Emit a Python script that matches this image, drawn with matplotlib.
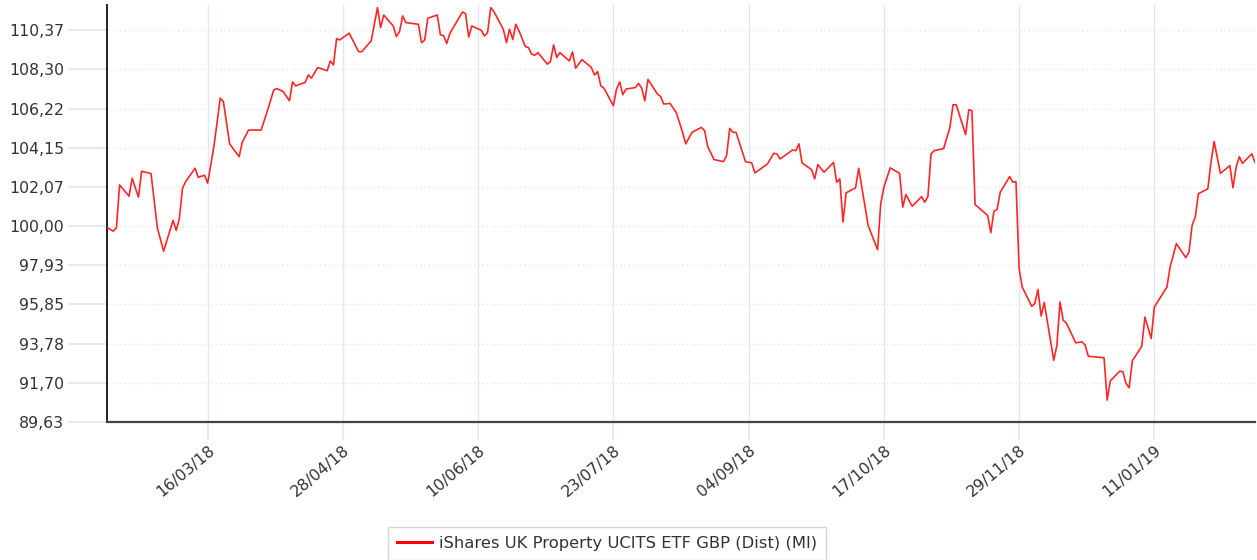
import matplotlib
matplotlib.use("Agg")
import matplotlib.pyplot as plt
import matplotlib.dates as mdates
import pandas as pd

# data: days since start date, fund value
start = "2018-02-12"
end = "2019-02-12"
day = [0, 2, 3, 4, 7, 8, 10, 11, 14, 16, 18, 21, 22, 23, 24, 25, 28, 29, 31, 32,
       34, 36, 37, 39, 42, 43, 45, 49, 51, 53, 54, 56, 58, 59, 60, 63, 64, 65, 67, 70,
       71, 72, 73, 74, 77, 80, 81, 84, 86, 87, 88, 91, 92, 93, 94, 95, 99, 100, 101, 102,
       105, 106, 107, 108, 109, 113, 114, 115, 116, 119, 120, 121, 122, 123, 126, 127, 128, 129, 130, 131,
       133, 134, 135, 136, 137, 140, 141, 142, 143, 144, 147, 148, 149, 151, 154, 155, 156, 157, 158, 161,
       162, 163, 164, 165, 168, 169, 170, 171, 172, 175, 176, 177, 179, 181, 182, 183, 184, 186, 187, 189,
       190, 191, 193, 196, 197, 198, 199, 200, 203, 205, 206, 210, 212, 213, 214, 218, 219, 220, 221, 224,
       225, 226, 228, 231, 232, 233, 234, 235, 238, 239, 240, 242, 245, 246, 247, 249, 252, 253, 254, 256,
       259, 260, 261, 262, 263, 266, 268, 269, 270, 273, 274, 275, 276, 280, 281, 282, 283, 284, 287, 288,
       289, 290, 291, 294, 295, 296, 297, 298, 301, 302, 303, 304, 305, 308, 310, 311, 312, 314, 317, 318,
       319, 322, 323, 324, 325, 326, 329, 330, 332, 333, 336, 337, 338, 340, 343, 344, 345, 346, 347, 350,
       351, 352, 354, 357, 358, 359, 360, 361, 364, 365]
value = [99.93, 99.73, 99.91, 102.18, 101.58, 102.53, 101.53, 102.90, 102.78, 99.91,
         98.67, 100.30, 99.77, 100.39, 102.00, 102.35, 103.06, 102.58, 102.69, 102.27,
         104.22, 106.77, 106.59, 104.35, 103.67, 104.43, 105.08, 105.08, 106.10, 107.20,
         107.28, 107.12, 106.63, 107.63, 107.42, 107.60, 108.00, 107.83, 108.39, 108.22,
         108.74, 108.53, 109.92, 109.85, 110.21, 109.23, 109.23, 109.80, 111.56, 110.50,
         111.17, 110.59, 110.03, 110.29, 111.12, 110.77, 110.68, 109.71, 109.84, 111.00,
         111.17, 110.12, 110.08, 109.66, 110.19, 111.33, 111.24, 110.01, 110.59, 110.36,
         110.06, 110.24, 111.56, 111.35, 110.42, 109.71, 110.42, 109.87, 110.68, 110.33,
         109.50, 109.45, 109.10, 109.04, 109.18, 108.57, 108.71, 109.59, 108.92, 109.18,
         108.74, 109.22, 108.36, 108.81, 108.39, 108.00, 108.18, 107.42, 107.30, 106.37,
         107.25, 107.63, 106.95, 107.25, 107.33, 107.55, 107.30, 106.63, 107.76, 106.99,
         106.86, 106.46, 106.49, 106.01, 105.49, 104.96, 104.35, 104.96, 105.05, 105.22,
         105.05, 104.20, 103.52, 103.41, 103.73, 105.17, 104.96, 104.96, 103.41, 103.34,
         102.81, 103.29, 103.85, 103.82, 103.55, 104.03, 103.99, 104.35, 103.34, 102.99,
         102.50, 103.25, 102.85, 103.37, 102.32, 102.50, 100.21, 101.76, 102.02, 103.06,
         102.05, 100.03, 98.75, 101.18, 102.05, 103.08, 102.79, 101.00, 101.67, 101.05,
         101.56, 101.26, 101.56, 103.82, 103.99, 104.10, 105.22, 106.42, 106.42, 104.84,
         106.16, 106.10, 101.14, 100.56, 99.65, 100.79, 100.88, 101.79, 102.62, 102.32,
         102.35, 97.75, 96.77, 95.75, 95.90, 96.64, 95.24, 95.95, 92.90, 93.66,
         95.98, 95.02, 94.87, 93.82, 93.87, 93.70, 93.11, 93.08, 93.03, 90.79,
         91.81, 92.32, 92.29, 91.67, 91.44, 92.87, 93.64, 95.19, 94.05, 95.72,
         96.51, 96.77, 97.83, 99.07, 98.33, 98.62, 100.03, 100.47, 101.71, 101.97,
         103.37, 104.48, 102.79, 103.20, 102.02, 103.11, 103.67, 103.32, 103.82, 103.37]

y_ticks = [89.63, 91.70, 93.78, 95.85, 97.93, 100.00, 102.07, 104.15, 106.22, 108.30, 110.37]
y_labels = ["89,63", "91,70", "93,78", "95,85", "97,93", "100,00", "102,07",
            "104,15", "106,22", "108,30", "110,37"]
x_ticks = ["2018-03-16", "2018-04-28", "2018-06-10", "2018-07-23",
           "2018-09-04", "2018-10-17", "2018-11-29", "2019-01-11"]
series_name = "iShares UK Property UCITS ETF GBP (Dist) (MI)"

dates = pd.Timestamp(start) + pd.to_timedelta(day, unit="D")

grid_col = "#dce8f6"
text_col = "#333333"

fig = plt.figure(figsize=(12.57, 5.6), dpi=100)
ax = fig.add_axes([107 / 1257, 1 - 422 / 560, (1255 - 107) / 1257, (422 - 5) / 560])

ax.plot(dates, value, color="#ff2626", linewidth=1.2, label=series_name, zorder=3)

ax.set_xlim(pd.Timestamp(start), pd.Timestamp(end))
ax.set_ylim(89.63, 111.70)

ax.set_yticks(y_ticks)
ax.set_yticklabels(y_labels)
ax.set_xticks(pd.to_datetime(x_ticks))
ax.xaxis.set_major_formatter(mdates.DateFormatter("%d/%m/%y"))

ax.grid(axis="y", color=grid_col, linestyle=(0, (1, 2)), linewidth=1)
ax.grid(axis="x", color=grid_col, linestyle="-", linewidth=1)
ax.set_axisbelow(True)

for s in ["top", "right"]:
    ax.spines[s].set_visible(False)
ax.spines["left"].set_color("#111111")
ax.spines["left"].set_linewidth(1.3)
ax.spines["bottom"].set_color("#444444")
ax.spines["bottom"].set_linewidth(1.6)

ax.tick_params(axis="y", length=28, width=1.2, color=grid_col, pad=3,
               labelsize=11.3, labelcolor=text_col)
ax.tick_params(axis="x", length=13, width=1.2, color=grid_col, pad=2,
               labelsize=11.3, labelcolor=text_col)
for lab in ax.get_xticklabels():
    lab.set_rotation(40)
    lab.set_ha("right")
    lab.set_rotation_mode("anchor")

leg = fig.legend(loc="upper center", bbox_to_anchor=(0.483, 1 - 527 / 560),
                 frameon=True, fancybox=False, fontsize=11.8, handlelength=2.1,
                 handletextpad=0.45, borderpad=0.55, borderaxespad=0,
                 labelcolor=text_col)
leg.get_frame().set_edgecolor("#cccccc")
leg.get_frame().set_linewidth(1)
for h in leg.get_lines():
    h.set_linewidth(2.2)
    h.set_color("#ff0000")

fig.savefig("out.png", dpi=100)
